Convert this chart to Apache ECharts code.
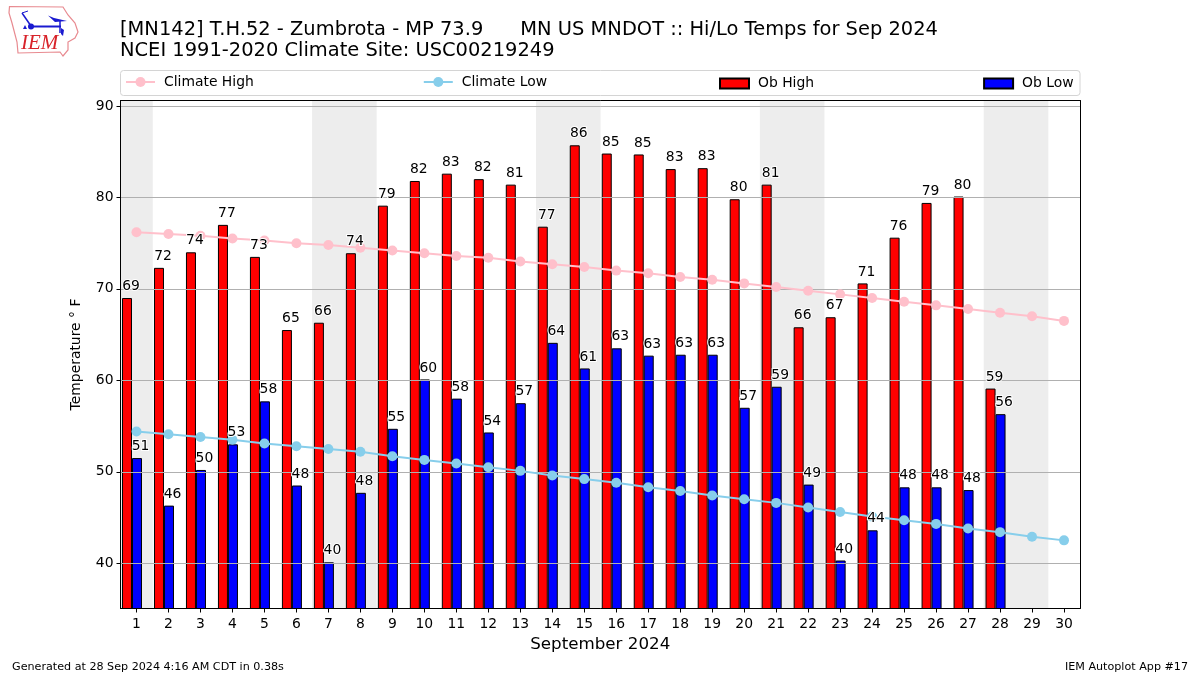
<!DOCTYPE html>
<html><head><meta charset="utf-8">
<style>html,body{margin:0;padding:0;background:#fff}#c{width:1200px;height:675px}</style>
<script src="https://cdn.jsdelivr.net/npm/echarts@6/dist/echarts.min.js"></script>
</head><body><div id="c"></div>
<script>
const days = ['1','2','3','4','5','6','7','8','9','10','11','12','13','14','15','16','17','18','19','20','21','22','23','24','25','26','27','28','29','30'];
const obHigh = [69,72.3,74,77,73.5,65.5,66.3,73.9,79.1,81.8,82.6,82,81.4,76.8,85.7,84.8,84.7,83.1,83.2,79.8,81.4,65.8,66.9,70.6,75.6,79.4,80.1,59.1,null,null];
const obLow = [51.5,46.3,50.2,53,57.7,48.5,40.1,47.7,54.7,60.1,58,54.3,57.5,64.1,61.3,63.5,62.7,62.8,62.8,57,59.3,48.6,40.3,43.6,48.3,48.3,48,56.3,null,null];
const climateHigh = [76.2,76.0,75.8,75.5,75.3,75.0,74.8,74.5,74.2,73.9,73.6,73.4,73.0,72.7,72.4,72.0,71.7,71.3,71.0,70.6,70.2,69.8,69.4,69.0,68.6,68.2,67.8,67.4,67.0,66.5];
const climateLow = [54.4,54.1,53.8,53.5,53.1,52.8,52.5,52.2,51.7,51.3,50.9,50.5,50.1,49.6,49.2,48.8,48.3,47.9,47.4,47.0,46.6,46.1,45.6,45.1,44.7,44.3,43.8,43.4,42.9,42.5];
const weekendDays = ['1','7','8','14','15','21','22','28','29'];
const yTicks = [40,50,60,70,80,90];
const yMin = 35.05, yMax = 90.6;
const FONT = '"DejaVu Sans"';

const chart = echarts.init(document.getElementById('c'), null, {renderer:'canvas'});
const labelSeries = (name, data, dx) => ({
  name, type:'scatter', data:data, symbol:'circle', symbolSize:0, z:6, silent:true,
  xAxisIndex:0, yAxisIndex:0, itemStyle:{opacity:1},
  label:{show:true, position:'top', distance:4.5, offset:[dx,0], color:'#000', opacity:1, fontFamily:FONT, fontSize:13.9,
    textBorderColor:'#fff', textBorderWidth:2,
    formatter:p => Math.floor(p.value + 0.4)}
});
const BLUE = '#1a1ad0';
chart.setOption({
  animation:false,
  backgroundColor:'#fff',
  textStyle:{fontFamily:FONT},
  title:[{text:'[MN142] T.H.52 - Zumbrota - MP 73.9      MN US MNDOT :: Hi/Lo Temps for Sep 2024\nNCEI 1991-2020 Climate Site: USC00219249',
    left:120, top:19, padding:0, textStyle:{fontFamily:FONT,fontSize:19.45,fontWeight:'normal',color:'#000',lineHeight:21.5}}],
  legend:[
    {left:125, top:75, padding:0, itemGap:169, itemWidth:29, itemHeight:12.5,
     textStyle:{fontFamily:FONT,fontSize:13.9,color:'#000',padding:[0,0,0,4]},
     data:[{name:'Climate High'},{name:'Climate Low'}]},
    {left:719, top:76.5, padding:0, itemGap:169, itemWidth:29, itemHeight:10,
     textStyle:{fontFamily:FONT,fontSize:13.9,color:'#000',padding:[0,0,0,4]},
     data:[{name:'Ob High',icon:'rect'},{name:'Ob Low',icon:'rect'}]}
  ],
  grid:{left:120.5,right:120,top:100.5,bottom:66.5,containLabel:false},
  xAxis:[
    {type:'category',data:days,position:'bottom',boundaryGap:true,z:3,
     name:'September 2024',nameLocation:'middle',nameGap:28,nameTextStyle:{fontFamily:FONT,fontSize:16.7,color:'#000'},
     axisLine:{show:true,lineStyle:{color:'#000',width:1}},
     axisTick:{show:true,alignWithLabel:true,length:4,lineStyle:{color:'#000'}},
     axisLabel:{interval:0,fontFamily:FONT,fontSize:13.9,color:'#000',margin:8.5},splitLine:{show:false}},
    {type:'category',data:days,position:'top',boundaryGap:true,z:3,
     axisLine:{show:true,onZero:false,lineStyle:{color:'#000',width:1}},axisTick:{show:false},axisLabel:{show:false},splitLine:{show:false}}
  ],
  yAxis:[
    {type:'value',min:yMin,max:yMax,position:'left',z:3,
     name:'Temperature \u00b0 F',nameLocation:'middle',nameGap:37,nameRotate:90,nameTextStyle:{fontFamily:FONT,fontSize:13.9,color:'#000'},
     axisLine:{show:true,onZero:false,lineStyle:{color:'#000',width:1}},
     axisTick:{show:true,length:4,customValues:yTicks,lineStyle:{color:'#000'}},
     axisLabel:{customValues:yTicks,fontFamily:FONT,fontSize:13.9,color:'#000',margin:7,padding:[2,0,0,0]},
     splitLine:{show:true,lineStyle:{color:'#b0b0b0',width:1}}},
    {type:'value',min:yMin,max:yMax,position:'right',z:3,
     axisLine:{show:true,onZero:false,lineStyle:{color:'#000',width:1}},axisTick:{show:false},axisLabel:{show:false},splitLine:{show:false}}
  ],
  series:[
    {name:'Weekend',type:'bar',xAxisIndex:1,yAxisIndex:1,z:1,silent:true,barWidth:32.6,
     data:days.map(d=>weekendDays.includes(d)?yMax:null),itemStyle:{color:'#ededed'}},
    {name:'Ob High',type:'bar',data:obHigh,barWidth:10,barGap:0,z:2,itemStyle:{color:'#ff0000',borderColor:'#000',borderWidth:1}},
    {name:'Ob Low',type:'bar',data:obLow,barWidth:10,barGap:0,z:2,itemStyle:{color:'#0000ff',borderColor:'#000',borderWidth:1}},
    {name:'Offset',type:'bar',data:[],barWidth:9,barGap:0,z:2},
    {name:'Climate High',type:'line',data:climateHigh,z:4,symbol:'circle',symbolSize:10,showSymbol:true,lineStyle:{color:'#ffc0cb',width:2},itemStyle:{color:'#ffc0cb'}},
    {name:'Climate Low',type:'line',data:climateLow,z:4,symbol:'circle',symbolSize:10,showSymbol:true,lineStyle:{color:'#87ceeb',width:2},itemStyle:{color:'#87ceeb'}},
    labelSeries('High labels',obHigh,-5.5),
    labelSeries('Low labels',obLow,4)
  ],
  graphic:[
    {type:'rect',z:-1,shape:{x:120.5,y:70.5,width:959.5,height:25,r:3},style:{fill:'#fff',stroke:'#d4d4d4',lineWidth:1}},
    {type:'text',left:12,top:661.5,style:{text:'Generated at 28 Sep 2024 4:16 AM CDT in 0.38s',font:'11.15px "DejaVu Sans"',fill:'#000'}},
    {type:'text',right:12,top:661.5,style:{text:'IEM Autoplot App #17',font:'11.15px "DejaVu Sans"',fill:'#000'}},
    {type:'polygon',shape:{points:[[9.5,6.5],[63,7],[68,15],[75,23],[78,32],[75,38],[68,42],[68,50],[63,56],[60,52],[18,53],[17,42],[12,23],[9,13]]},style:{fill:'none',stroke:'#e88a90',lineWidth:1.2}},
    {type:'text',left:21,top:33,style:{text:'IEM',font:'italic 21px "Liberation Serif"',fill:'#d8232a'}},
    {type:'line',shape:{x1:31,y1:26.5,x2:61,y2:26.5},style:{stroke:BLUE,lineWidth:2}},
    {type:'line',shape:{x1:22,y1:13,x2:31,y2:26},style:{stroke:BLUE,lineWidth:1.5}},
    {type:'line',shape:{x1:22,y1:13,x2:28,y2:11},style:{stroke:BLUE,lineWidth:1}},
    {type:'circle',shape:{cx:31,cy:26.5,r:3},style:{fill:BLUE}},
    {type:'polygon',shape:{points:[[48,15.5],[54,18],[67,21],[55,22]]},style:{fill:BLUE}},
    {type:'line',shape:{x1:60,y1:21,x2:60,y2:33},style:{stroke:BLUE,lineWidth:1.5}},
    {type:'polygon',shape:{points:[[61,28],[64,30],[63,36],[61,34]]},style:{fill:BLUE}},
    {type:'polygon',shape:{points:[[25,25],[27,29],[23,29]]},style:{fill:BLUE}}
  ]
});
</script></body></html>
